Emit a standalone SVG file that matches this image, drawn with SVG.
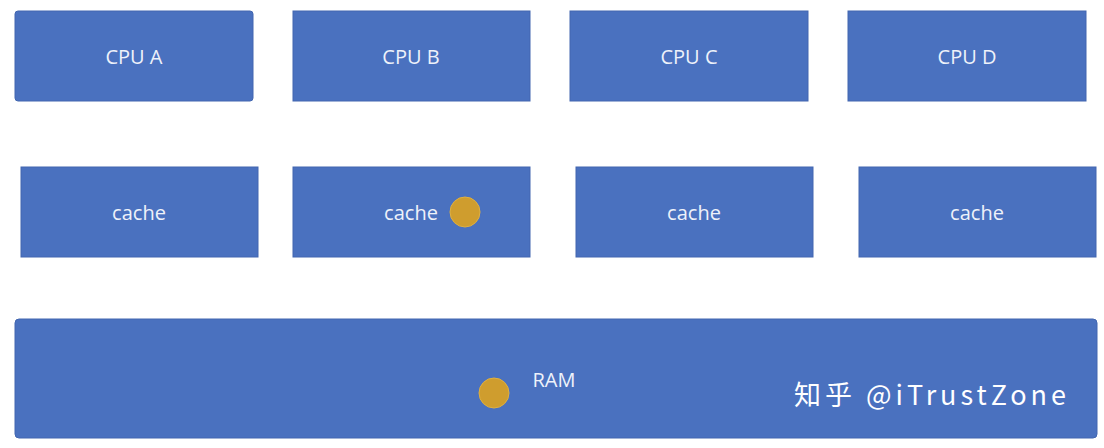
<svg xmlns="http://www.w3.org/2000/svg" width="1104" height="448" viewBox="0 0 1104 448">
<style>
.box{fill:#4a71bf;stroke:#4266b0;stroke-width:1}
.lbl{font-family:"Open Sans","Liberation Sans",sans-serif;font-size:20px;font-weight:500;fill:#eef2fa;text-anchor:middle;dominant-baseline:central}
.dot{fill:#cf9d2e;stroke:#e0b040;stroke-width:1}
.wm{font-family:"Noto Sans CJK SC","Noto Sans",sans-serif;font-size:27px;fill:#ffffff}
</style>
<rect width="1104" height="448" fill="#ffffff"/>
<g id="cpuA"><rect class="box" x="15" y="11" width="238" height="90" rx="3"/><text class="lbl" x="134" y="56">CPU A</text></g>
<g id="cpuB"><rect class="box" x="293" y="11" width="237" height="90"/><text class="lbl" x="411" y="56">CPU B</text></g>
<g id="cpuC"><rect class="box" x="570" y="11" width="238" height="90"/><text class="lbl" x="689" y="56">CPU C</text></g>
<g id="cpuD"><rect class="box" x="848" y="11" width="238" height="90"/><text class="lbl" x="967" y="56">CPU D</text></g>
<g id="cacheA"><rect class="box" x="21" y="167" width="237" height="90"/><text class="lbl" x="139" y="212">cache</text></g>
<g id="cacheB"><rect class="box" x="293" y="167" width="237" height="90"/><text class="lbl" x="411" y="212">cache</text><circle class="dot" cx="465" cy="212" r="15"/></g>
<g id="cacheC"><rect class="box" x="576" y="167" width="237" height="90"/><text class="lbl" x="694" y="212">cache</text></g>
<g id="cacheD"><rect class="box" x="859" y="167" width="237" height="90"/><text class="lbl" x="977" y="212">cache</text></g>
<g id="ram"><rect class="box" x="15" y="319" width="1082" height="119" rx="4"/><text class="lbl" x="554" y="379">RAM</text><circle class="dot" cx="494" cy="393" r="15"/></g>
<g id="connectors"></g>
<text class="wm" x="794" y="405" textLength="272" lengthAdjust="spacing">知乎 @iTrustZone</text>
</svg>
